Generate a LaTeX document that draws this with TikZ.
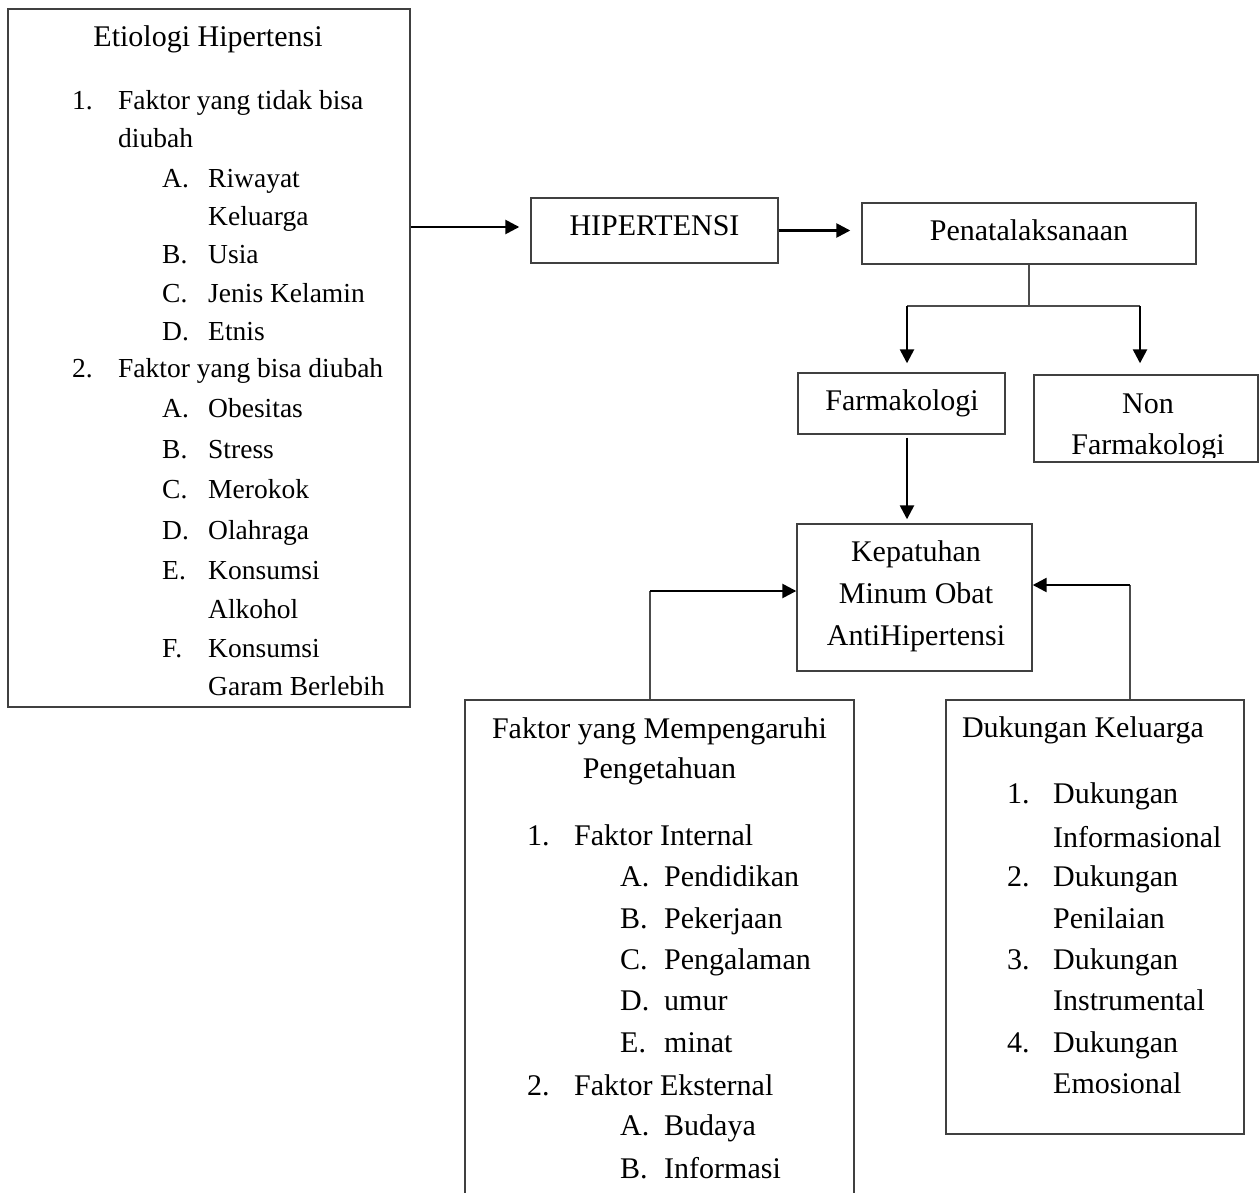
\documentclass[tikz,border=0pt]{standalone}
\usepackage{fontspec}
\setmainfont{Liberation Serif}
\usetikzlibrary{arrows.meta}
\tikzset{
  box/.style={draw=black!75,line width=1.4pt,inner sep=0pt},
  link/.style={draw=black!70,line width=1.4pt},
  flow/.style={-{Triangle[length=14pt,width=14pt]},line width=2.5pt},
  txt/.style={inner sep=0pt,anchor=base,font=\fontsize{30}{41.5}\selectfont},
  item/.style={txt,anchor=base west},
  smallitem/.style={item,font=\fontsize{27.5}{39}\selectfont}
}

\begin{document}
\begin{tikzpicture}[x=1pt,y=-1pt]
  \useasboundingbox (0,0) rectangle (1260,1193);

  % boxes
  \node[box,minimum width=402pt,minimum height=698pt] (etio) at (209,358) {};
  \node[box,minimum width=247pt,minimum height=65pt] (hip) at (654.5,230.5) {};
  \node[box,minimum width=334pt,minimum height=61pt] (pena) at (1029,233.5) {};
  \node[box,minimum width=207pt,minimum height=61pt] (farm) at (901.5,403.5) {};
  \node[box,minimum width=224pt,minimum height=87pt] (nonf) at (1146,418.5) {};
  \node[box,minimum width=235pt,minimum height=147pt] (kep) at (914.5,597.5) {};
  \node[box,minimum width=389pt,minimum height=510pt] (fak) at (659.5,955) {};
  \node[box,minimum width=298pt,minimum height=434pt] (duk) at (1095,917) {};

  % single texts
  \node[txt] (etio-title) at (208,47) {Etiologi Hipertensi};
  \node[txt] (hip-text) at (654.5,235) {HIPERTENSI};
  \node[txt] (pena-text) at (1029,240) {Penatalaksanaan};
  \node[txt] (farm-text) at (902,410) {Farmakologi};
  \node[txt] (nonf-a) at (1148,413) {Non};
  \begin{scope}
    \clip (nonf.north west) rectangle (1258,457);
    \node[txt] (nonf-b) at (1148,454) {Farmakologi};
  \end{scope}
  \node[txt] (kep-a) at (916,561) {Kepatuhan};
  \node[txt] (kep-b) at (916,603) {Minum Obat};
  \node[txt] (kep-c) at (916,645) {AntiHipertensi};
  \node[txt] (fak-a) at (659.5,738) {Faktor yang Mempengaruhi};
  \node[txt] (fak-b) at (659.5,778) {Pengetahuan};
  \node[txt] (duk-title) at (1083,737) {Dukungan Keluarga};

  % lists
  \foreach \py/\px/\t [count=\i] in {110/72/1., 110/118/Faktor yang tidak bisa,
      148/118/diubah, 187/162/A., 187/208/Riwayat, 225/208/Keluarga,
      263/162/B., 263/208/Usia, 302/162/C., 302/208/Jenis Kelamin,
      340/162/D., 340/208/Etnis, 377/72/2., 377/118/Faktor yang bisa diubah,
      417/162/A., 417/208/Obesitas, 458/162/B., 458/208/Stress,
      498/162/C., 498/208/Merokok, 539/162/D., 539/208/Olahraga,
      579/162/E., 579/208/Konsumsi, 618/208/Alkohol,
      657/162/F., 657/208/Konsumsi, 695/208/Garam Berlebih}
    \node[smallitem] (etio-\i) at (\px,\py) {\t};
  \foreach \py/\px/\t [count=\i] in {845/527/1., 845/574/Faktor Internal,
      886/620/A., 886/664/Pendidikan, 928/620/B., 928/664/Pekerjaan,
      969/620/C., 969/664/Pengalaman, 1010/620/D., 1010/664/umur,
      1052/620/E., 1052/664/minat, 1095/527/2., 1095/574/Faktor Eksternal,
      1135/620/A., 1135/664/Budaya, 1178/620/B., 1178/664/Informasi}
    \node[item] (fak-\i) at (\px,\py) {\t};
  \foreach \py/\px/\t [count=\i] in {803/1007/1., 803/1053/Dukungan,
      847/1053/Informasional, 886/1007/2., 886/1053/Dukungan,
      928/1053/Penilaian, 969/1007/3., 969/1053/Dukungan,
      1010/1053/Instrumental, 1052/1007/4., 1052/1053/Dukungan,
      1093/1053/Emosional}
    \node[item] (duk-\i) at (\px,\py) {\t};

  % connectors
  \coordinate (hip-in) at ([yshift=3.5pt]hip.west);
  \draw[flow,shorten >=11pt] (etio.east |- hip-in) -- (hip-in);
  \draw[flow,shorten >=11pt] (hip.east) -- (hip.east -| pena.west);
  \coordinate (fork-l) at (907,306);
  \coordinate (fork-r) at (1140,306);
  \draw[link] (pena.south) -- (pena.south |- fork-l);
  \draw[link] (fork-l) -- (fork-r);
  \draw[flow,shorten >=9pt] (fork-l) -- (fork-l |- farm.north);
  \draw[flow,shorten >=11pt] (fork-r) -- (fork-r |- nonf.north);
  \draw[flow,shorten <=3pt,shorten >=4pt] (farm.south -| fork-l) -- (kep.north -| fork-l);
  \coordinate (fak-up) at (650,591);
  \coordinate (duk-up) at (1130,585);
  \draw[link] (fak.north -| fak-up) -- (fak-up);
  \draw[flow] (fak-up) -- (fak-up -| kep.west);
  \draw[link] (duk.north -| duk-up) -- (duk-up);
  \draw[flow] (duk-up) -- (duk-up -| kep.east);
\end{tikzpicture}
\end{document}
